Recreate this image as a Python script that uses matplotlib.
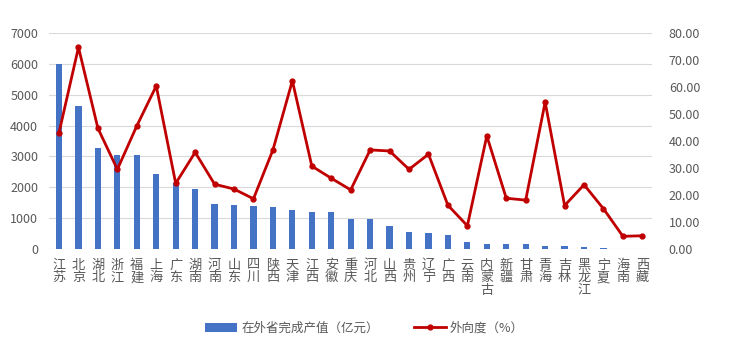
import matplotlib.pyplot as plt
import numpy as np

plt.rcParams['font.family'] = ['Noto Sans CJK SC', 'DejaVu Sans']

# 数据
provinces = ['江苏', '北京', '湖北', '浙江', '福建', '上海', '广东', '湖南', '河南', '山东',
             '四川', '陕西', '天津', '江西', '安徽', '重庆', '河北', '山西', '贵州', '辽宁',
             '广西', '云南', '内蒙古', '新疆', '甘肃', '青海', '吉林', '黑龙江', '宁夏', '海南', '西藏']
output_value = [6000, 4650, 3280, 3050, 3050, 2420, 2140, 1930, 1470, 1430,
                1400, 1370, 1270, 1200, 1200, 980, 980, 730, 560, 510,
                455, 240, 165, 165, 165, 100, 100, 60, 25, 0, 0]
outward_ratio = [43.1, 74.7, 44.7, 29.5, 45.6, 60.4, 24.3, 35.8, 24.0, 22.2,
                 18.6, 36.7, 62.3, 30.7, 26.2, 21.9, 36.7, 36.3, 29.5, 35.1,
                 16.2, 8.6, 41.9, 18.8, 18.1, 54.4, 16.1, 23.8, 14.9, 4.7, 4.9]

tick_color = '#595959'
x = np.arange(len(provinces))

fig = plt.figure(figsize=(7.36, 3.51), dpi=100)
ax = fig.add_axes([0.067, 0.2906, 0.819, 0.6154])
ax2 = ax.twinx()

ax.bar(x, output_value, width=0.32, color='#4472C4', label='在外省完成产值（亿元）', zorder=3)
ax2.plot(x, outward_ratio, color='#C00000', linewidth=2, marker='o', markersize=3.5,
         label='外向度（%）', zorder=4)

ax.set_xlim(-0.5, len(provinces) - 0.5)
ax.set_ylim(0, 7000)
ax.set_yticks(range(0, 7001, 1000))
ax2.set_ylim(0, 80)
ax2.set_yticks(range(0, 81, 10))
ax2.set_yticklabels([f'{v:.2f}' for v in range(0, 81, 10)])

ax.set_xticks(x)
ax.set_xticklabels(['\n'.join(p) for p in provinces], va='top', linespacing=0.95)

ax.grid(axis='y', color='#D9D9D9', linewidth=0.8, zorder=0)
for a in (ax, ax2):
    for s in a.spines.values():
        s.set_visible(False)
    a.tick_params(length=0, colors=tick_color, labelsize=9)
ax.tick_params(axis='x', labelsize=9.5, pad=7)
ax.tick_params(axis='y', pad=8)
ax2.tick_params(axis='y', pad=12)

# 图例
h1, l1 = ax.get_legend_handles_labels()
h2, l2 = ax2.get_legend_handles_labels()
fig.legend(h1 + h2, l1 + l2, loc='center', bbox_to_anchor=(0.495, 0.065), ncol=2,
           frameon=False, fontsize=9, labelcolor=tick_color, handlelength=2.6,
           columnspacing=2.8, handletextpad=0.3)

fig.savefig('out.png', dpi=100)
